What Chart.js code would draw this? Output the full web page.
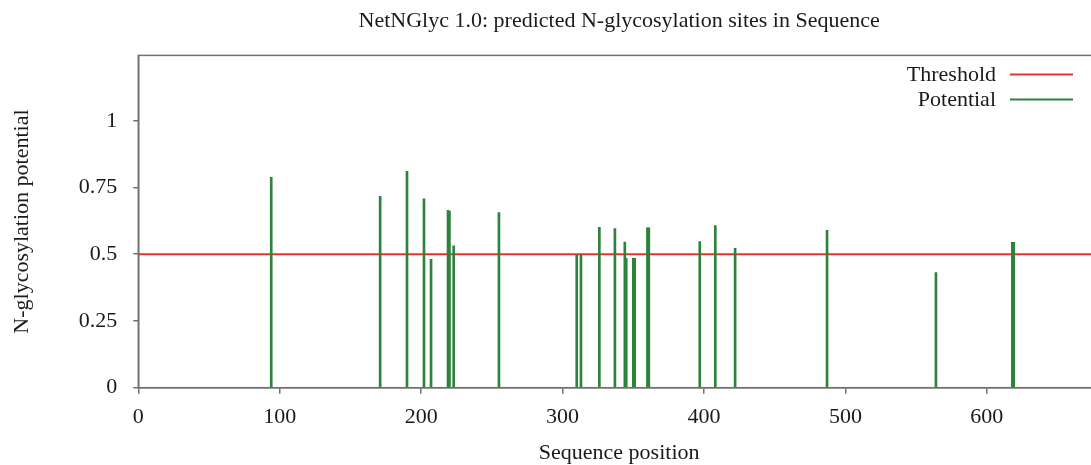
<!DOCTYPE html>
<html>
<head>
<meta charset="utf-8">
<script src="https://cdn.jsdelivr.net/npm/chart.js@4"></script>
<style>
  html, body { margin: 0; padding: 0; background: #fff; overflow: hidden; }
  #wrap { width: 1091px; height: 465px; overflow: hidden; }
</style>
</head>
<body>
<div id="wrap"><canvas id="glyChart" width="1100" height="465"></canvas></div>
<script>
// ==========================================
// DATA
// ==========================================
const positions = [94, 171, 190, 202, 207, 219, 220, 223, 255, 310, 313, 326, 337, 344, 345, 350, 351, 360, 361, 397, 408, 422, 487, 564, 618, 619];
const potentials = [0.788, 0.717, 0.811, 0.708, 0.481, 0.665, 0.662, 0.532, 0.656, 0.497, 0.499, 0.601, 0.596, 0.546, 0.485, 0.485, 0.485, 0.599, 0.599, 0.547, 0.607, 0.522, 0.590, 0.431, 0.545, 0.545];
const threshold = 0.5;
const xTicks = [0, 100, 200, 300, 400, 500, 600];
const yTicks = [0, 0.25, 0.5, 0.75, 1];
const xRange = [0, 680];
const yRange = [0, 1.245];

const serif = 'Liberation Serif';
const textColor = '#1a1a1a';
const frameColor = '#707070';

// frame round the plot + legend drawn gnuplot style (text left, line right)
const framePlugin = {
    id: 'frameLegend',
    afterDatasetsDraw(chart) {
        const { ctx, chartArea: a } = chart;
        ctx.save();
        ctx.strokeStyle = frameColor;
        ctx.lineWidth = 1.5;
        ctx.strokeRect(a.left, a.top, a.right - a.left, a.bottom - a.top);

        ctx.font = '22px "' + serif + '"';
        ctx.textAlign = 'right';
        ctx.textBaseline = 'middle';
        chart.data.datasets.forEach((ds, i) => {
            const y = a.top + 19 + i * 25;
            ctx.fillStyle = textColor;
            ctx.fillText(ds.label, 996, y + 1);
            ctx.strokeStyle = ds.borderColor;
            ctx.lineWidth = 2;
            ctx.beginPath();
            ctx.moveTo(1010, y);
            ctx.lineTo(1073, y);
            ctx.stroke();
        });
        ctx.restore();
    }
};

const ctx = document.getElementById('glyChart').getContext('2d');
new Chart(ctx, {
    type: 'bar',
    data: {
        datasets: [
            {
                type: 'line',
                label: 'Threshold',
                data: [{ x: xRange[0], y: threshold }, { x: xRange[1], y: threshold }],
                borderColor: '#e8322f',
                borderWidth: 2,
                pointRadius: 0,
                order: 1
            },
            {
                type: 'bar',
                label: 'Potential',
                data: positions.map((p, i) => ({ x: p, y: potentials[i] })),
                borderColor: '#2f823c',
                backgroundColor: '#2f823c',
                barThickness: 2,
                order: 0
            }
        ]
    },
    options: {
        responsive: false,
        animation: false,
        devicePixelRatio: 1,
        layout: { padding: { left: 0, right: 0, top: 0, bottom: 0 } },
        plugins: {
            legend: { display: false },
            tooltip: { enabled: false },
            title: {
                display: true,
                fullSize: false,
                text: 'NetNGlyc 1.0: predicted N-glycosylation sites in Sequence',
                color: textColor,
                font: { family: serif, size: 22, weight: 'normal' },
                padding: { top: 8, bottom: 21 }
            }
        },
        scales: {
            x: {
                type: 'linear',
                min: xRange[0],
                max: xRange[1],
                offset: false,
                afterBuildTicks: s => { s.ticks = xTicks.map(v => ({ value: v })); },
                afterFit: s => { s.height = 465 - 387.7; },
                grid: { offset: false, drawOnChartArea: false, color: frameColor, tickLength: 6, lineWidth: 1.5 },
                border: { display: true, color: frameColor, width: 1.5 },
                ticks: {
                    color: textColor,
                    padding: 10,
                    maxRotation: 0,
                    font: { family: serif, size: 22 },
                    callback: v => String(v)
                },
                title: {
                    display: true,
                    text: 'Sequence position',
                    color: textColor,
                    font: { family: serif, size: 22, lineHeight: 1.1 },
                    padding: { top: 0, bottom: 0 }
                }
            },
            y: {
                min: yRange[0],
                max: yRange[1],
                afterBuildTicks: s => { s.ticks = yTicks.map(v => ({ value: v })); },
                afterFit: s => { s.width = 138.3; },
                grid: { drawOnChartArea: false, color: frameColor, tickLength: 5, lineWidth: 1.5 },
                border: { display: true, color: frameColor, width: 1.5 },
                ticks: {
                    color: textColor,
                    padding: 16,
                    font: { family: serif, size: 22 },
                    callback: v => String(v)
                },
                title: {
                    display: true,
                    text: 'N-glycosylation potential',
                    color: textColor,
                    font: { family: serif, size: 22 },
                    padding: { top: 9, bottom: 0 }
                }
            }
        }
    },
    plugins: [framePlugin]
});
</script>
</body>
</html>
